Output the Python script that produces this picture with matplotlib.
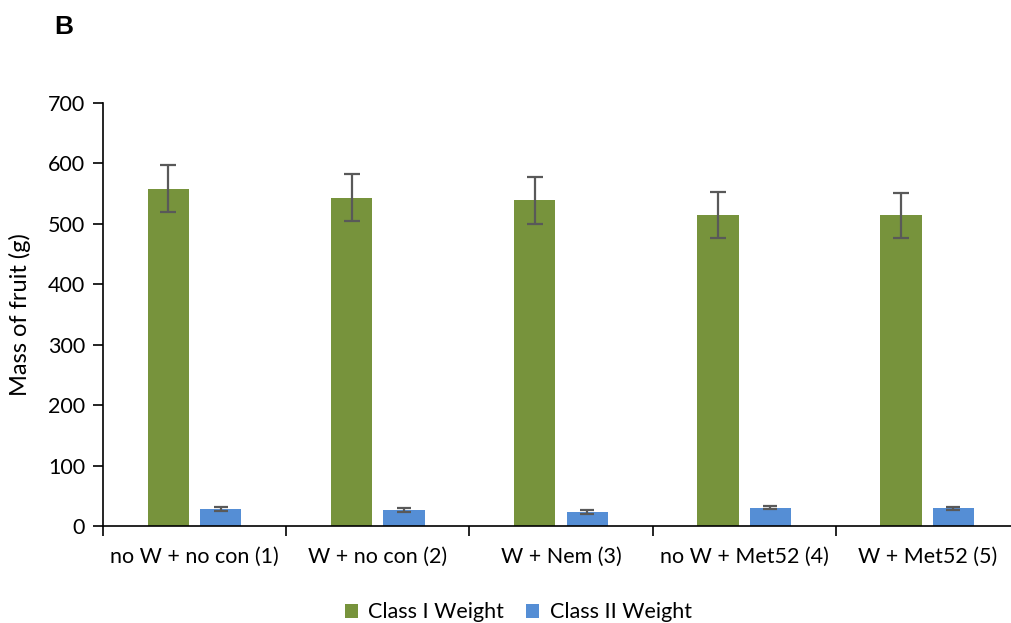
import numpy as np
import matplotlib.pyplot as plt

treatments = ['no W + no con (1)', 'W + no con (2)', 'W + Nem (3)',
              'no W + Met52 (4)', 'W + Met52 (5)']
class1_mean = [558, 543, 539, 515, 514]
class1_err = [39, 39, 39, 38, 37]
class2_mean = [28, 26, 23, 30, 29]
class2_err = [3, 3, 3, 2.5, 3]

plt.rcParams['font.family'] = ['Lato', 'DejaVu Sans']

fig = plt.figure(figsize=(10.12, 6.23), dpi=100)
ax = fig.add_axes([0.1018, 0.1557, 0.905, 0.679])

x = np.arange(len(treatments))
w = 0.225
err_kw = dict(ecolor='#595959', elinewidth=1.6, capsize=6, capthick=1.6)
ax.bar(x - 0.143, class1_mean, w, yerr=class1_err, color='#77933C',
       label='Class I Weight', error_kw=err_kw, zorder=2)
ax.bar(x + 0.143, class2_mean, w, yerr=class2_err, color='#558ED5',
       label='Class II Weight', error_kw=dict(err_kw, capsize=5), zorder=2)

ax.set_xlim(-0.5, 4.5)
ax.set_ylim(0, 700)
ax.set_yticks(range(0, 701, 100))
ax.set_xticks(x)
ax.set_xticklabels(treatments, fontsize=15.5)
ax.set_xticks(np.arange(-0.5, 5, 1), minor=True)
ax.tick_params(axis='x', which='major', length=0, pad=15)
ax.tick_params(axis='x', which='minor', length=7, width=1.2, direction='out')
ax.tick_params(axis='y', length=7, width=1.2, labelsize=15.5, pad=6)
for s in ['top', 'right']:
    ax.spines[s].set_visible(False)
for s in ['left', 'bottom']:
    ax.spines[s].set_linewidth(1.2)
ax.set_ylabel('Mass of fruit (g)', fontsize=17, labelpad=12)

fig.legend(loc='lower center', bbox_to_anchor=(0.512, -0.03), ncol=2,
           frameon=False, fontsize=15.5, handlelength=0.6, handleheight=0.6,
           columnspacing=1.0, handletextpad=0.5)
fig.text(0.054, 0.945, 'B', fontsize=19, fontweight='bold',
         family='Liberation Sans')

fig.savefig('out.png', dpi=100)
